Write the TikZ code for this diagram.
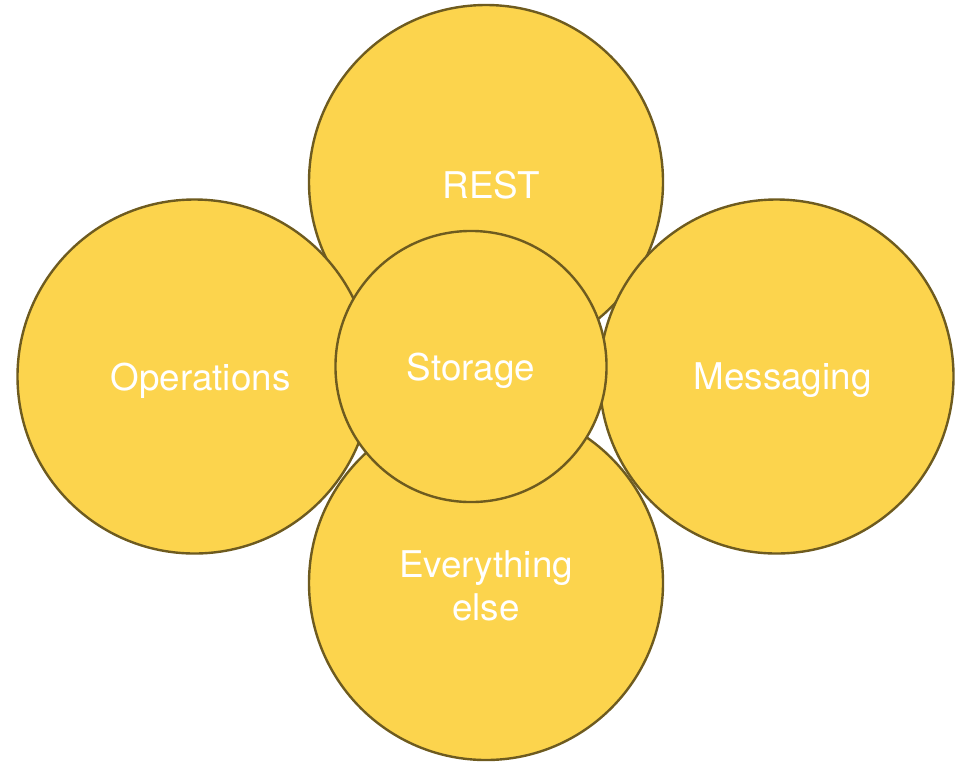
\documentclass[tikz,border=0pt]{standalone}
\usepackage{fontspec}
\setmainfont{TeX Gyre Heros}
\usetikzlibrary{positioning}
\definecolor{bubblefill}{RGB}{252,212,77}
\definecolor{bubbleline}{RGB}{110,91,31}
\tikzset{
  bubble/.style={circle, draw=bubbleline, fill=bubblefill, line width=1.8pt,
    inner sep=0pt, minimum size=#1},
  bubble/.default=265.5pt,
  tag/.style={text=white, align=center, inner sep=0pt,
    font=\fontsize{27.6}{33}\selectfont}
}

\begin{document}
\begin{tikzpicture}[x=0.75pt, y=-0.75pt]
    \useasboundingbox (0,0) rectangle (969,761);
    % outer ring first, core on top
    \node [bubble] (rest) at (486,182) {};
    \node [bubble] (else) at (486,583) {};
    \node [bubble] (ops) at (194.5,376.5) {};
    \node [bubble] (msg) at (776.5,376.5) {};
    \node [bubble=203.3pt] (store) at (471,366.5) {};
    % labels
    \node [tag] (resttxt) at ([shift={(5,3)}]rest.center) {REST};
    \node [tag] (elsetxt) at ([shift={(0,3)}]else.center) {Everything\\[-0.3pt]else};
    \node [tag] (opstxt) at ([shift={(6,4)}]ops.center) {Operations};
    \node [tag] (msgtxt) at ([shift={(6,4)}]msg.center) {Messaging};
    \node [tag] (storetxt) at ([shift={(0,4)}]store.center) {Storage};
\end{tikzpicture}
\end{document}
